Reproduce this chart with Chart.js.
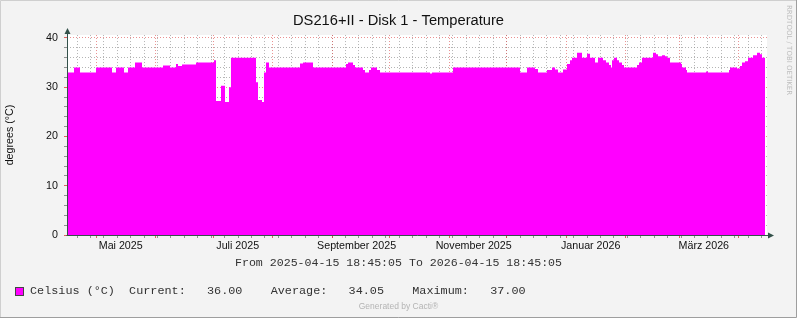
<!DOCTYPE html>
<html><head><meta charset="utf-8">
<script src="https://cdn.jsdelivr.net/npm/chart.js@4"></script>
<style>html,body{margin:0;padding:0;background:#f3f3f3}canvas{display:block}</style>
</head><body>
<canvas id="c" width="797" height="318"></canvas>
<script>
// ---------- data ----------
const TITLE = 'DS216+II - Disk 1 - Temperature';
const Y_TITLE = 'degrees (°C)';
const SERIES_LABEL = 'Celsius (°C)';
const RANGE_TEXT = 'From 2025-04-15 18:45:05 To 2026-04-15 18:45:05';
const FOOTER_TEXT = 'Generated by Cacti®';
const WATERMARK = 'RRDTOOL / TOBI OETIKER';
const START = '2025-04-15T18:45:05+02:00';
const END = '2026-04-15T18:45:05+02:00';

// days since START, and the step value that starts there
const days = [0, 3.65, 6.78, 15.12, 23.46, 25.55, 29.72, 31.81, 35.46, 39.11,
  50.06, 53.71, 56.84, 57.88, 59.96, 67.27, 76.65, 77.69, 80.30, 82.39,
  84.47, 85.51, 98.55, 99.59, 101.68, 102.72, 103.76, 105.33, 121.49, 123.06,
  128.27, 145.48, 146.52, 149.13, 150.17, 154.34, 155.39, 157.47, 158.51, 161.64,
  163.21, 189.28, 190.32, 201.27, 236.21, 239.86, 244.03, 245.59, 250.29, 252.89,
  254.46, 256.02, 258.63, 260.71, 262.28, 263.32, 265.93, 268.54, 271.14, 272.71,
  275.32, 276.88, 279.49, 281.05, 282.62, 283.66, 284.18, 285.22, 286.79, 287.83,
  289.39, 290.44, 297.22, 298.26, 299.82, 305.56, 307.12, 308.16, 310.25, 311.81,
  312.86, 314.42, 320.16, 320.68, 322.77, 323.29, 333.19, 334.24, 345.19, 345.71,
  349.36, 350.92, 351.97, 353.53, 355.10, 357.71, 359.79, 361.36, 362.40, 363.96];
const celsius = [33, 34, 33, 34, 33, 34, 33, 34, 35, 34,
  34.4, 34, 34.7, 34.3, 34.6, 35, 35.5, 27.2, 30.3, 27,
  30, 36, 31, 27.4, 27, 33, 35, 34, 34.8, 35,
  34, 34.7, 35, 34.5, 34, 33.5, 33, 33.5, 34, 33.5,
  33, 32.8, 33, 34, 33, 34, 33.7, 33, 33.5, 34,
  33.6, 33, 33.6, 34.7, 35.5, 36, 37, 36, 36.8, 36,
  35, 36, 35.5, 35, 34.5, 34, 35.5, 36, 35.5, 35,
  34.5, 34, 34.5, 35, 36, 37, 36.7, 36.3, 36.5, 36.3,
  36, 35, 34.7, 34, 33.5, 33, 33.2, 33, 33.5, 34,
  33.8, 34.3, 35, 35.3, 36, 36.5, 37, 36.7, 36, 36];

const Y_MAX = 40.6;
const Y_STEP_MINOR = 2;
const Y_STEP_MAJOR = 10;
const FIRST_MONDAY = '2025-04-21T00:00:00+02:00';
const MONTH_STARTS = ['2025-05-01T00:00:00+02:00','2025-06-01T00:00:00+02:00','2025-07-01T00:00:00+02:00',
  '2025-08-01T00:00:00+02:00','2025-09-01T00:00:00+02:00','2025-10-01T00:00:00+02:00',
  '2025-11-01T00:00:00+01:00','2025-12-01T00:00:00+01:00','2026-01-01T00:00:00+01:00',
  '2026-02-01T00:00:00+01:00','2026-03-01T00:00:00+01:00','2026-04-01T00:00:00+02:00'];
const MONTH_LABELS = ['Mai 2025','Juli 2025','September 2025','November 2025','Januar 2026','März 2026'];
const MONTH_LABEL_AT = ['2025-05-13T19:00:00+02:00','2025-07-13T19:00:00+02:00','2025-09-13T19:00:00+02:00',
  '2025-11-13T19:00:00+01:00','2026-01-13T19:00:00+01:00','2026-03-13T19:00:00+01:00'];
const STAT_NAMES = ['Current:','Average:','Maximum:'];
const STAT_VALUES = [36.00, 34.05, 37.00];

// ---------- helpers ----------
const DAY = 86400000;
const t0 = Date.parse(START);
const toDay = iso => (Date.parse(iso) - t0) / DAY;
const X_MAX = toDay(END);

const xTicks = [];
for (let d = toDay(FIRST_MONDAY); d < X_MAX; d += 7) xTicks.push({value: d, kind: 'w'});
MONTH_STARTS.forEach(s => xTicks.push({value: toDay(s), kind: 'm'}));
MONTH_LABEL_AT.forEach((s, i) => xTicks.push({value: toDay(s), kind: 'l', text: MONTH_LABELS[i]}));
xTicks.sort((a, b) => a.value - b.value);

const yTicks = [];
for (let v = 0; v <= 40; v += Y_STEP_MINOR) yTicks.push({value: v, kind: v % Y_STEP_MAJOR === 0 ? 'M' : 'n'});

const MAGENTA = '#FF00FF';
const GRID_MINOR = 'rgba(140,140,140,0.65)';
const GRID_MAJOR = 'rgba(220,70,70,0.6)';
const AXIS = '#33514a';
const SANS = '"Liberation Sans", Arial, sans-serif';
const MONO = '"Liberation Mono", "Courier New", monospace';

const extras = {
  id: 'rrdExtras',
  beforeDraw(chart) {
    const {ctx, chartArea: a, width, height} = chart;
    ctx.save();
    ctx.fillStyle = '#f3f3f3';
    ctx.fillRect(0, 0, width, height);
    ctx.fillStyle = '#ffffff';
    ctx.fillRect(a.left, a.top, a.right - a.left, a.bottom - a.top);
    ctx.restore();
  },
  afterDraw(chart) {
    const {ctx, chartArea: a, width, height} = chart;
    ctx.save();
    // frame
    ctx.lineWidth = 1;
    ctx.strokeStyle = '#cfcfcf';
    ctx.beginPath(); ctx.moveTo(0.5, height); ctx.lineTo(0.5, 0.5); ctx.lineTo(width, 0.5); ctx.stroke();
    ctx.strokeStyle = '#9e9e9e';
    ctx.beginPath(); ctx.moveTo(0, height - 0.5); ctx.lineTo(width - 0.5, height - 0.5); ctx.lineTo(width - 0.5, 0); ctx.stroke();
    // axes + arrows
    const x0 = Math.round(a.left) + 0.5, y0 = Math.round(a.bottom) + 0.5;
    ctx.strokeStyle = AXIS; ctx.fillStyle = AXIS;
    ctx.beginPath(); ctx.moveTo(x0, y0); ctx.lineTo(x0, a.top - 3); ctx.stroke();
    ctx.beginPath(); ctx.moveTo(x0 - 1, y0); ctx.lineTo(a.right + 2, y0); ctx.stroke();
    ctx.beginPath(); ctx.moveTo(x0 - 3, a.top - 1); ctx.lineTo(x0 + 3, a.top - 1); ctx.lineTo(x0, a.top - 7); ctx.closePath(); ctx.fill();
    ctx.beginPath(); ctx.moveTo(a.right + 1, y0 - 3); ctx.lineTo(a.right + 1, y0 + 3); ctx.lineTo(a.right + 7, y0); ctx.closePath(); ctx.fill();
    // range text
    const cx = width / 2;
    ctx.fillStyle = '#333';
    ctx.font = '11.6px ' + MONO;
    ctx.textAlign = 'center'; ctx.textBaseline = 'middle';
    ctx.fillText(RANGE_TEXT, cx, 263);
    // legend
    ctx.fillStyle = MAGENTA; ctx.fillRect(15, 287, 9, 9);
    ctx.strokeStyle = '#444'; ctx.strokeRect(15.5, 287.5, 8, 8);
    ctx.fillStyle = '#333';
    ctx.font = '11.8px ' + MONO;
    ctx.textAlign = 'left';
    const legendText = SERIES_LABEL + '  ' + STAT_NAMES[0] + '   ' + STAT_VALUES[0].toFixed(2) + '    ' +
      STAT_NAMES[1] + '   ' + STAT_VALUES[1].toFixed(2) + '    ' + STAT_NAMES[2] + '   ' + STAT_VALUES[2].toFixed(2);
    ctx.fillText(legendText, 30, 291);
    // footer
    ctx.fillStyle = '#b4b4b4';
    ctx.font = '8.5px ' + SANS;
    ctx.textAlign = 'center';
    ctx.fillText(FOOTER_TEXT, cx, 307);
    // watermark
    ctx.translate(789, 5);
    ctx.rotate(Math.PI / 2);
    ctx.fillStyle = '#bdbdbd';
    ctx.font = '7px "DejaVu Sans", sans-serif';
    ctx.textAlign = 'left';
    ctx.fillText(WATERMARK, 0, 0);
    ctx.restore();
  }
};

new Chart(document.getElementById('c'), {
  type: 'line',
  data: {
    datasets: [{
      label: SERIES_LABEL,
      data: days.map((d, i) => ({x: d, y: celsius[i]})),
      stepped: 'before',
      fill: 'origin',
      backgroundColor: MAGENTA,
      borderWidth: 0,
      borderColor: MAGENTA,
      pointRadius: 0
    }]
  },
  plugins: [extras],
  options: {
    responsive: false,
    animation: false,
    events: [],
    layout: {padding: {left: 0, right: 0, top: 0, bottom: 61}},
    plugins: {
      legend: {display: false},
      tooltip: {enabled: false},
      title: {
        display: true, text: TITLE, color: '#111',
        font: {family: SANS, size: 14.7, weight: 'normal'},
        padding: {top: 12.2, bottom: 5.2}
      }
    },
    scales: {
      x: {
        type: 'linear', min: 0, max: X_MAX, z: 1,
        afterBuildTicks: s => { s.ticks = xTicks.map(t => ({...t})); },
        afterFit: s => { s.height = 22; },
        border: {display: false, dash: [1, 2]},
        grid: {
          color: c => c.tick && c.tick.kind === 'm' ? GRID_MAJOR : (c.tick && c.tick.kind === 'w' ? GRID_MINOR : 'rgba(0,0,0,0)'),
          tickColor: c => c.tick && c.tick.kind === 'm' ? 'rgba(215,60,60,0.8)' : (c.tick && c.tick.kind === 'w' ? 'rgba(120,120,120,0.8)' : 'rgba(0,0,0,0)'),
          tickLength: 3, lineWidth: 1
        },
        ticks: {
          autoSkip: false, maxRotation: 0, minRotation: 0, padding: 2,
          color: '#111', font: {family: SANS, size: 10.7},
          callback: (v, i, ticks) => ticks[i].kind === 'l' ? ticks[i].text : ''
        }
      },
      y: {
        type: 'linear', min: 0, max: Y_MAX, z: 1,
        afterBuildTicks: s => { s.ticks = yTicks.map(t => ({...t})); },
        afterFit: s => { s.width = 67; },
        border: {display: false, dash: [1, 2]},
        grid: {
          color: c => c.tick && c.tick.kind === 'M' ? GRID_MAJOR : GRID_MINOR,
          tickColor: c => c.tick && c.tick.kind === 'M' ? 'rgba(215,60,60,0.8)' : 'rgba(120,120,120,0.8)',
          tickLength: 3, lineWidth: 1
        },
        ticks: {
          autoSkip: false, padding: 6,
          color: '#111', font: {family: SANS, size: 10.7},
          callback: (v, i, ticks) => ticks[i].kind === 'M' ? String(v) : ''
        },
        title: {
          display: true, text: Y_TITLE, color: '#111',
          font: {family: SANS, size: 10.7},
          padding: {top: 4, bottom: 0}
        }
      },
      yRight: {
        type: 'linear', position: 'right', min: 0, max: Y_MAX,
        grid: {display: false, drawTicks: false},
        border: {display: false},
        ticks: {display: false},
        afterFit: s => { s.width = 30; }
      }
    }
  }
});
</script>
</body></html>
